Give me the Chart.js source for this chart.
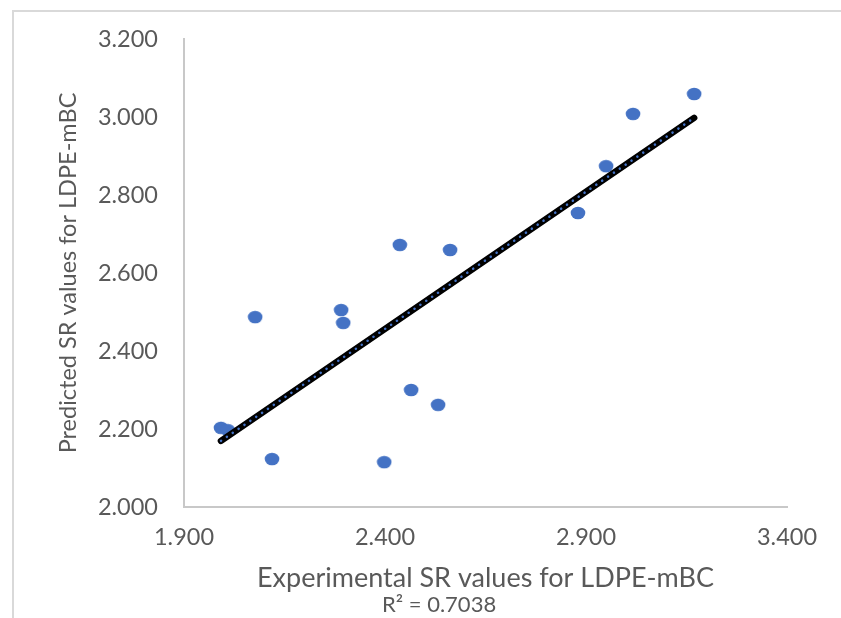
<!DOCTYPE html>
<html>
<head>
<meta charset="utf-8">
<script src="https://cdn.jsdelivr.net/npm/chart.js@4/dist/chart.umd.min.js"></script>
<style>
  html, body { margin: 0; padding: 0; background: #fff; }
  #wrap { position: relative; width: 841px; height: 618px; overflow: hidden; }
  #frame { position: absolute; left: 12px; top: 10px; width: 900px; height: 700px;
           border-top: 2px solid #d9d9d9; border-left: 2px solid #d9d9d9; }
  canvas { position: absolute; left: 0; top: 0; }
</style>
</head>
<body>
<div id="wrap">
  <div id="frame"></div>
  <canvas id="chart" width="841" height="618"></canvas>
</div>
<script>
  'use strict';

  // Experimental vs predicted SR values
  const experimental = [1.992, 2.009, 2.077, 2.119, 2.291, 2.296, 2.398, 2.437, 2.465, 2.532, 2.562, 2.880, 2.950, 3.017, 3.169];
  const predicted    = [2.203, 2.197, 2.487, 2.123, 2.505, 2.472, 2.115, 2.672, 2.300, 2.262, 2.659, 2.754, 2.874, 3.008, 3.059];

  const xTicks = [1.9, 2.4, 2.9, 3.4];
  const yTicks = [2.0, 2.2, 2.4, 2.6, 2.8, 3.0, 3.2];

  const X_TITLE = 'Experimental SR values for LDPE-mBC';
  const Y_TITLE = 'Predicted SR values for LDPE-mBC';
  const R2_LABEL = 'R² = 0.7038';

  const FONT = "Lato, 'Open Sans', sans-serif";
  const TEXT_COLOR = '#595959';
  const AXIS_COLOR = '#c8c8c8';
  const POINT_COLOR = '#4472C4';

  // least squares trendline through the points
  function linearFit(xs, ys) {
    const n = xs.length;
    const mx = xs.reduce((a, b) => a + b, 0) / n;
    const my = ys.reduce((a, b) => a + b, 0) / n;
    let sxy = 0, sxx = 0;
    for (let i = 0; i < n; i++) {
      sxy += (xs[i] - mx) * (ys[i] - my);
      sxx += (xs[i] - mx) * (xs[i] - mx);
    }
    const slope = sxy / sxx;
    return { slope, intercept: my - slope * mx };
  }

  const fit = linearFit(experimental, predicted);
  const xMin = Math.min(...experimental);
  const xMax = Math.max(...experimental);
  const trend = [xMin, xMax].map(x => ({ x, y: fit.intercept + fit.slope * x }));

  // slightly oval marker, like the original
  const marker = document.createElement('canvas');
  marker.width = 16; marker.height = 14;
  (() => {
    const c = marker.getContext('2d');
    c.fillStyle = POINT_COLOR;
    c.beginPath();
    c.ellipse(8, 7, 7.3, 6.3, 0, 0, Math.PI * 2);
    c.fill();
  })();

  const textPlugin = {
    id: 'texts',
    afterDraw(chart) {
      const { ctx, chartArea: a } = chart;
      ctx.save();
      ctx.fillStyle = TEXT_COLOR;
      ctx.textBaseline = 'middle';
      ctx.textAlign = 'center';
      ctx.font = `27px ${FONT}`;
      ctx.fillText(X_TITLE, (a.left + a.right) / 2, 578);
      ctx.textAlign = 'left';
      ctx.font = `22px ${FONT}`;
      ctx.fillText(R2_LABEL, 382, 605);
      ctx.translate(68, (a.top + a.bottom) / 2);
      ctx.rotate(-Math.PI / 2);
      ctx.textAlign = 'center';
      ctx.font = `23.5px ${FONT}`;
      ctx.fillText(Y_TITLE, 0, 0);
      ctx.restore();
    }
  };

  new Chart(document.getElementById('chart'), {
    type: 'scatter',
    data: {
      datasets: [
        {
          type: 'line',
          data: trend,
          borderColor: POINT_COLOR,
          borderWidth: 2.5,
          borderDash: [0.1, 7],
          borderCapStyle: 'round',
          pointRadius: 0,
          fill: false,
          order: 0
        },
        {
          type: 'line',
          data: trend,
          borderColor: '#000000',
          borderWidth: 6.5,
          borderCapStyle: 'round',
          pointRadius: 0,
          fill: false,
          order: 1
        },
        {
          data: experimental.map((x, i) => ({ x, y: predicted[i] })),
          pointStyle: marker,
          pointRadius: 7,
          order: 2
        }
      ]
    },
    options: {
      responsive: false,
      animation: false,
      layout: { padding: { top: 39, right: 54, left: 0, bottom: 0 } },
      plugins: { legend: { display: false }, tooltip: { enabled: false } },
      scales: {
        x: {
          type: 'linear',
          min: xTicks[0],
          max: xTicks[xTicks.length - 1],
          afterBuildTicks: s => { s.ticks = xTicks.map(v => ({ value: v })); },
          afterFit: s => { s.height = 111; },
          grid: { display: false },
          border: { display: true, color: AXIS_COLOR, width: 2 },
          ticks: {
            padding: 8,
            color: TEXT_COLOR,
            font: { family: FONT, size: 23.5 },
            callback: v => v.toFixed(3)
          }
        },
        y: {
          type: 'linear',
          min: yTicks[0],
          max: yTicks[yTicks.length - 1],
          afterBuildTicks: s => { s.ticks = yTicks.map(v => ({ value: v })); },
          afterFit: s => { s.width = 184; },
          grid: { display: false },
          border: { display: true, color: AXIS_COLOR, width: 2 },
          ticks: {
            padding: 18,
            color: TEXT_COLOR,
            font: { family: FONT, size: 23.5 },
            callback: v => v.toFixed(3)
          }
        }
      }
    },
    plugins: [textPlugin]
  });
</script>
</body>
</html>
